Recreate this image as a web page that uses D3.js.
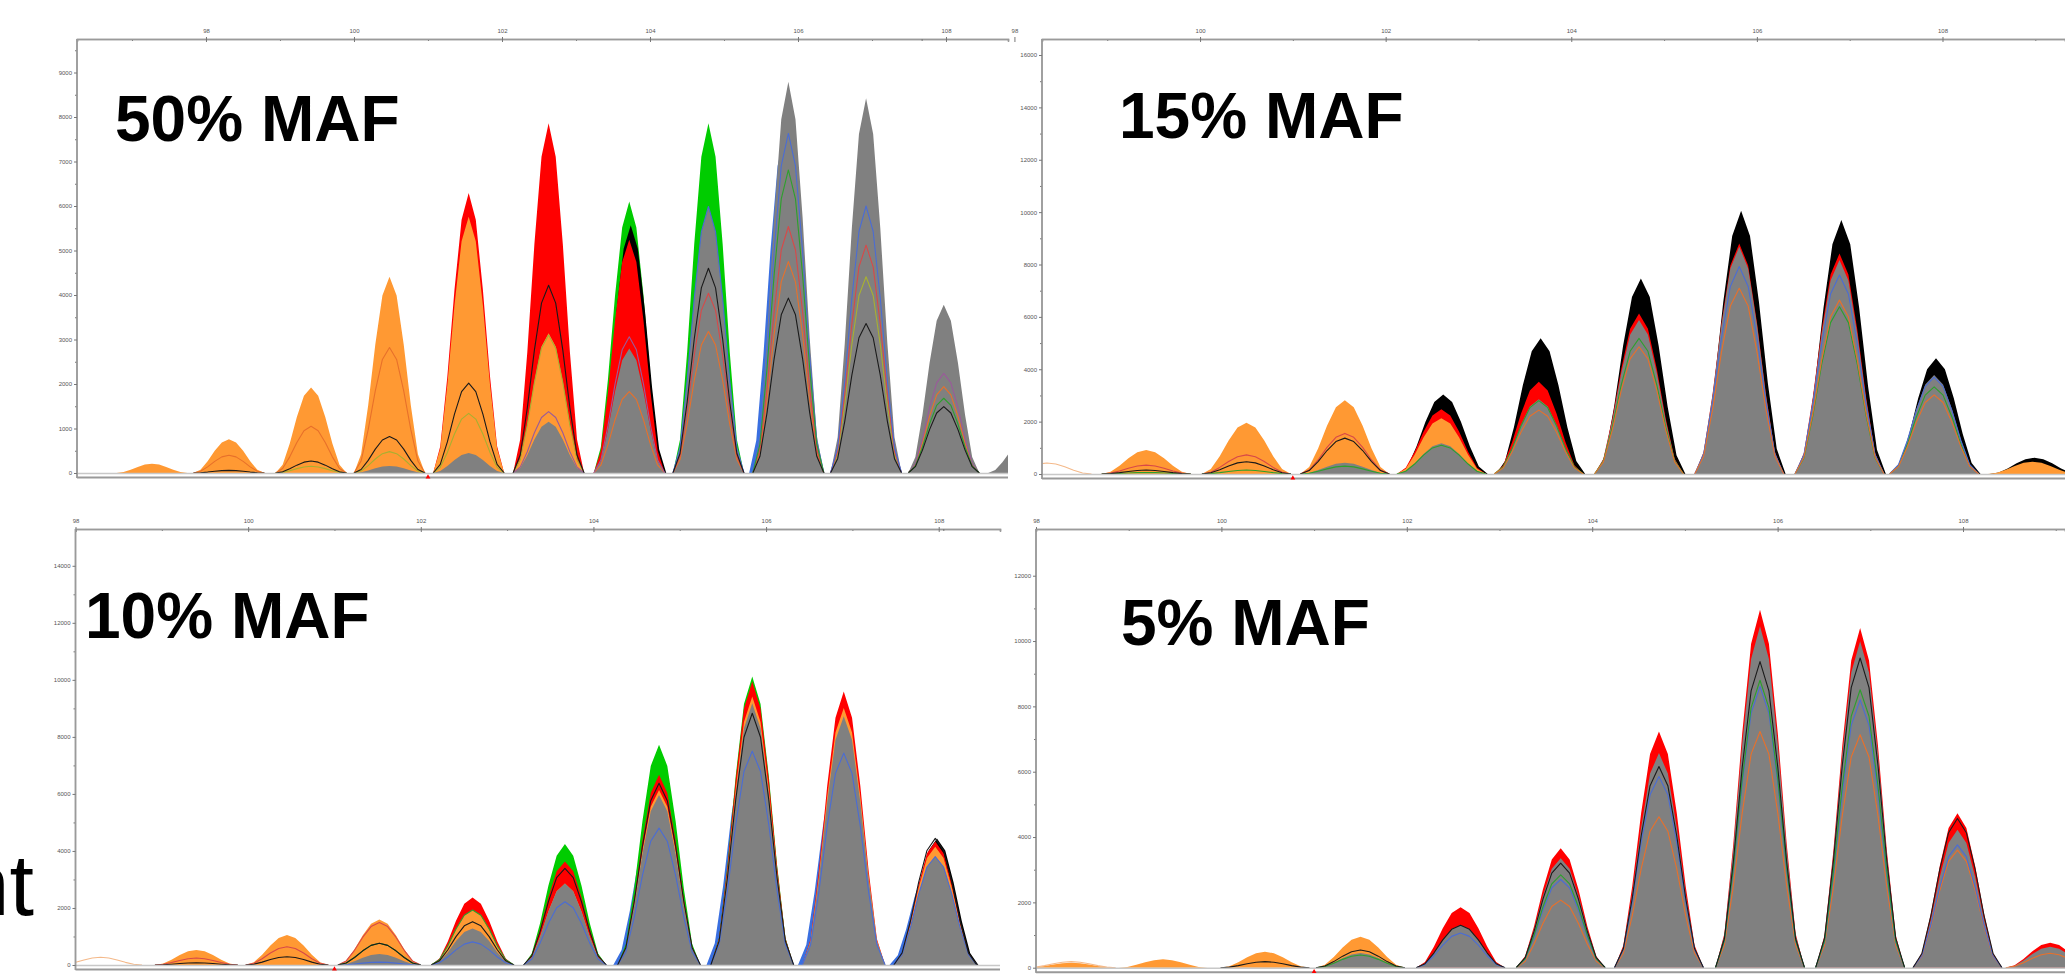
<!DOCTYPE html>
<html>
<head>
<meta charset="utf-8">
<script src="https://cdn.jsdelivr.net/npm/d3@7/dist/d3.min.js"></script>
<style>
  html, body { margin: 0; padding: 0; background: #fff; overflow: hidden; }
  svg { display: block; }
  .tick text { font-family: "Liberation Sans", Arial, sans-serif; font-size: 6px; fill: #555; }
</style>
</head>
<body>
<svg id="chart" width="2065" height="975"></svg>
<script>
// panel titles and ticks
var panelTitles = ["50% MAF", "15% MAF", "10% MAF", "5% MAF"];
var xMajorTicks = [98, 100, 102, 104, 106, 108];
var xMinorTicks = [97, 99, 101, 103, 105, 107, 109];

// ---- 50% MAF (peak size in bp, heights in RFU)
var maf50Pos        = [97.27, 98.31, 99.42, 100.48, 101.55, 102.63, 103.72, 104.79, 105.87, 106.92, 107.97, 109.05];
var maf50Blue       = [0, 0, 0, 0, 0, 0, 0, 0, 7630, 0, 0, 0];
var maf50Green      = [0, 0, 0, 0, 0, 0, 6100, 7860, 0, 0, 0, 0];
var maf50Black      = [0, 0, 0, 0, 0, 0, 5570, 0, 0, 0, 0, 0];
var maf50Red        = [0, 0, 0, 0, 6290, 7860, 5240, 0, 0, 0, 0, 0];
var maf50Orange     = [210, 760, 1920, 4410, 5760, 3140, 0, 0, 0, 0, 0, 0];
var maf50Gray       = [0, 0, 0, 160, 450, 1150, 2800, 5990, 8790, 8420, 3780, 700];
var maf50LineOrange = [0, 400, 1050, 2820, 0, 0, 1830, 3180, 4750, 0, 1940, 0];
var maf50LineBlack  = [0, 60, 270, 820, 2020, 4220, 0, 4600, 3930, 3360, 1490, 0];
var maf50LineOlive  = [0, 0, 150, 480, 1340, 3100, 0, 0, 0, 4410, 0, 0];
var maf50LinePurple = [0, 0, 0, 0, 0, 1380, 3060, 0, 0, 0, 2240, 0];
var maf50LineRed    = [0, 0, 0, 0, 0, 0, 0, 4040, 5540, 5120, 0, 0];
var maf50LineBlue   = [0, 0, 0, 0, 0, 0, 0, 5990, 7630, 6000, 0, 0];
var maf50LineGreen  = [0, 0, 0, 0, 0, 0, 0, 0, 6810, 0, 1680, 0];

// ---- 15% MAF
var maf15Pos        = [98.35, 99.42, 100.5, 101.56, 102.6, 103.65, 104.73, 105.81, 106.89, 107.91, 108.97];
var maf15Black      = [0, 0, 0, 0, 3040, 5180, 7470, 10050, 9700, 4420, 620];
var maf15Red        = [0, 0, 0, 0, 2470, 3520, 6130, 8800, 8420, 0, 0];
var maf15Orange     = [0, 916, 1960, 2820, 2130, 0, 0, 0, 0, 0, 470];
var maf15Gray       = [0, 0, 0, 430, 1170, 2850, 5880, 8680, 8170, 3780, 0];
var maf15LineBeige  = [420, 0, 0, 0, 0, 0, 0, 0, 0, 0, 0];
var maf15LineRed    = [0, 340, 730, 1550, 0, 0, 0, 0, 0, 0, 0];
var maf15LineBlack  = [0, 150, 470, 1370, 0, 0, 0, 0, 0, 0, 0];
var maf15LineGreen  = [0, 60, 150, 300, 1100, 2800, 5180, 0, 6390, 3330, 0];
var maf15LineBlue   = [0, 0, 0, 0, 0, 0, 0, 7920, 7600, 3700, 0];
var maf15LineOrange = [0, 0, 0, 0, 0, 2440, 4860, 7090, 6640, 3020, 0];

// ---- 10% MAF
var maf10Pos        = [98.29, 99.4, 100.45, 101.52, 102.6, 103.67, 104.76, 105.84, 106.9, 107.96];
var maf10Blue       = [0, 0, 0, 0, 0, 0, 5500, 8000, 7400, 3600];
var maf10Green      = [0, 0, 0, 0, 0, 4240, 7720, 10120, 0, 0];
var maf10Black      = [0, 0, 0, 0, 0, 0, 0, 0, 0, 4440];
var maf10Red        = [0, 0, 0, 0, 2370, 3630, 6670, 9940, 9590, 4330];
var maf10Orange     = [0, 530, 1050, 1600, 1930, 2860, 6140, 9420, 9010, 4150];
var maf10Gray       = [0, 0, 0, 385, 1280, 2860, 5960, 9180, 8720, 3800];
var maf10LineBeige  = [270, 0, 0, 0, 0, 0, 0, 0, 0, 0];
var maf10LineRed    = [0, 245, 640, 1490, 0, 0, 0, 0, 0, 0];
var maf10LineBlack  = [0, 80, 290, 760, 1520, 3390, 6370, 8830, 0, 4440];
var maf10LineGreen  = [0, 0, 0, 760, 1930, 0, 0, 0, 0, 0];
var maf10LineBlue   = [0, 0, 0, 100, 810, 2220, 4800, 7500, 7430, 3800];

// ---- 5% MAF
var maf5Pos         = [98.38, 99.37, 100.47, 101.5, 102.58, 103.66, 104.72, 105.81, 106.89, 107.94, 108.94];
var maf5Red         = [0, 0, 0, 0, 1850, 3660, 7230, 10960, 10400, 4730, 765];
var maf5Orange      = [150, 255, 490, 950, 0, 0, 0, 0, 0, 0, 0];
var maf5Gray        = [0, 0, 0, 450, 1310, 3350, 6570, 10450, 9990, 4220, 640];
var maf5LineBeige   = [185, 0, 0, 0, 0, 0, 0, 0, 0, 0, 0];
var maf5LineBlack   = [0, 0, 185, 540, 1300, 3200, 6160, 9370, 9480, 4570, 0];
var maf5LineGreen   = [0, 0, 0, 390, 0, 2840, 0, 8800, 8510, 0, 0];
var maf5LineBlue    = [0, 0, 0, 0, 1060, 2700, 5850, 8610, 8200, 3760, 0];
var maf5LineOrange  = [0, 0, 0, 0, 0, 2070, 4620, 7230, 7130, 3600, 440];

// colours / draw order (back to front)
var fillColors = { blue: "#3a6fe0", green: "#00cc00", black: "#000000", red: "#ff0000", orange: "#ff9933", gray: "#808080" };
var fillShift = { blue: -0.05, green: 0, black: 0.02, red: 0, orange: 0, gray: 0 };
var lineColors = { beige: "#f4b98a", orange: "#e8702a", olive: "#a8b030", purple: "#9a5a9a", red: "#d84848",
	blue: "#4a6cd4", green: "#2ca02c", black: "#1a1a1a" };

var panels = [{
	pos: maf50Pos,
	fills: { blue: maf50Blue, green: maf50Green, black: maf50Black, red: maf50Red, orange: maf50Orange, gray: maf50Gray },
	lines: { orange: maf50LineOrange, olive: maf50LineOlive, purple: maf50LinePurple, red: maf50LineRed,
		blue: maf50LineBlue, green: maf50LineGreen, black: maf50LineBlack },
	xDom: [96.257, 108.838], xRange: [77, 1008], yDom: [0, 9753], yRange: [473, 39],
	yMajor: d3.range(0, 9001, 1000), yMinor: d3.range(500, 9600, 1000),
	titleX: 115, titleY: 141
}, {
	pos: maf15Pos,
	fills: { black: maf15Black, red: maf15Red, orange: maf15Orange, gray: maf15Gray },
	lines: { beige: maf15LineBeige, red: maf15LineRed, green: maf15LineGreen, blue: maf15LineBlue,
		orange: maf15LineOrange, black: maf15LineBlack },
	xDom: [98.297, 109.32], xRange: [1042, 2065], yDom: [0, 16611], yRange: [474, 39],
	yMajor: d3.range(0, 16001, 2000), yMinor: d3.range(1000, 16000, 2000),
	titleX: 1119, titleY: 138
}, {
	pos: maf10Pos,
	fills: { blue: maf10Blue, green: maf10Green, black: maf10Black, red: maf10Red, orange: maf10Orange, gray: maf10Gray },
	lines: { beige: maf10LineBeige, red: maf10LineRed, green: maf10LineGreen, blue: maf10LineBlue, black: maf10LineBlack },
	xDom: [98, 108.71], xRange: [75.5, 1000], yDom: [0, 15290], yRange: [965, 529],
	yMajor: d3.range(0, 14001, 2000), yMinor: d3.range(1000, 15000, 2000),
	titleX: 85, titleY: 638
}, {
	pos: maf5Pos,
	fills: { red: maf5Red, orange: maf5Orange, gray: maf5Gray },
	lines: { beige: maf5LineBeige, orange: maf5LineOrange, blue: maf5LineBlue, green: maf5LineGreen, black: maf5LineBlack },
	xDom: [98, 109.1], xRange: [1036, 2065], yDom: [0, 13430], yRange: [967.7, 529],
	yMajor: d3.range(0, 12001, 2000), yMinor: d3.range(1000, 13000, 2000),
	titleX: 1121, titleY: 645
}];

var svg = d3.select("#chart");
var halfWidth = 0.48; // peak half width in bp
var steps = d3.range(-5, 6);

// sampled peak outline (like the instrument's scan points)
function peakPoints(c, h) {
	return steps.map(function(k) {
		var d = k / 5 * halfWidth;
		var v = Math.cos(Math.PI * d / (2 * halfWidth));
		return [c + d, h * v * v];
	});
}

panels.forEach(function(p, pi) {
	var x = d3.scaleLinear().domain(p.xDom).range(p.xRange);
	var y = d3.scaleLinear().domain(p.yDom).range(p.yRange);
	var top = p.yRange[1], base = p.yRange[0];
	var left = p.xRange[0], right = p.xRange[1];

	var g = svg.append("g").attr("class", "panel");

	svg.append("clipPath").attr("id", "clip" + pi)
		.append("rect").attr("x", left).attr("y", top)
		.attr("width", right - left).attr("height", base - top + 0.5);

	var plot = g.append("g").attr("clip-path", "url(#clip" + pi + ")");

	var area = d3.area().x(function(d) { return x(d[0]); }).y0(y(0)).y1(function(d) { return y(d[1]); });
	var line = d3.line().x(function(d) { return x(d[0]); }).y(function(d) { return y(d[1]); });

	// filled envelopes
	["blue", "green", "black", "red", "orange", "gray"].forEach(function(key) {
		var vals = p.fills[key];
		if (!vals) return;
		plot.append("g").selectAll("path")
			.data(p.pos.map(function(c, i) { return { c: c + fillShift[key], h: vals[i] }; })
				.filter(function(d) { return d.h > 0; }))
			.enter().append("path")
			.attr("d", function(d) { return area(peakPoints(d.c, d.h)); })
			.style("fill", fillColors[key]);
	});

	// individual traces
	Object.keys(p.lines).forEach(function(key) {
		var vals = p.lines[key];
		plot.append("g").selectAll("path")
			.data(p.pos.map(function(c, i) { return { c: c, h: vals[i] }; })
				.filter(function(d) { return d.h > 0; }))
			.enter().append("path")
			.attr("d", function(d) { return line(peakPoints(d.c, d.h)); })
			.style("fill", "none")
			.style("stroke", lineColors[key])
			.style("stroke-width", 1.1)
			.style("stroke-linejoin", "round");
	});

	// zero line + bottom border
	g.append("line").attr("x1", left).attr("x2", right).attr("y1", base + 0.5).attr("y2", base + 0.5)
		.style("stroke", "#c8c8c8").style("stroke-width", 1.5);
	g.append("line").attr("x1", left).attr("x2", right).attr("y1", base + 4.5).attr("y2", base + 4.5)
		.style("stroke", "#999").style("stroke-width", 2);

	// marker at 101 bp
	g.append("path")
		.attr("d", d3.symbol().type(d3.symbolTriangle).size(10))
		.attr("transform", "translate(" + x(101) + "," + (base + 4) + ")")
		.style("fill", "#ff0000");

	// top axis
	var xMinor = g.append("g").attr("transform", "translate(0," + top + ")")
		.call(d3.axisTop(x).tickValues(xMinorTicks.filter(function(t) { return x(t) < right; })).tickSize(-2).tickFormat(""));
	var xMajor = g.append("g").attr("transform", "translate(0," + top + ")")
		.call(d3.axisTop(x).tickValues(xMajorTicks).tickSize(-3).tickPadding(6));
	[xMinor, xMajor].forEach(function(a) {
		a.select(".domain").style("stroke", "#9a9a9a").style("stroke-width", 1.5);
		a.selectAll(".tick line").style("stroke", "#777");
	});
	xMajor.selectAll(".tick line").clone().attr("y2", -2);

	// left axis
	var yMinor = g.append("g").attr("transform", "translate(" + left + ",0)")
		.call(d3.axisLeft(y).tickValues(p.yMinor).tickSize(2).tickFormat(""));
	var yMajor = g.append("g").attr("transform", "translate(" + left + ",0)")
		.call(d3.axisLeft(y).tickValues(p.yMajor).tickSize(3).tickPadding(2).tickFormat(d3.format("d")));
	[yMinor, yMajor].forEach(function(a) {
		a.select(".domain").attr("d", "M0," + top + "V" + (base + 5)).style("stroke", "#9a9a9a").style("stroke-width", 1.5);
		a.selectAll(".tick line").style("stroke", "#777");
	});

	// title
	g.append("text")
		.attr("x", p.titleX).attr("y", p.titleY)
		.text(panelTitles[pi])
		.style("font-family", "Liberation Sans, Arial, sans-serif")
		.style("font-weight", "bold")
		.style("font-size", "64px")
		.style("fill", "#000");
});

// cropped word at the far left
svg.append("text")
	.attr("x", 34).attr("y", 915)
	.attr("text-anchor", "end")
	.text("nt")
	.style("font-family", "Liberation Sans, Arial, sans-serif")
	.style("font-size", "88px")
	.style("fill", "#000");
</script>
</body>
</html>
